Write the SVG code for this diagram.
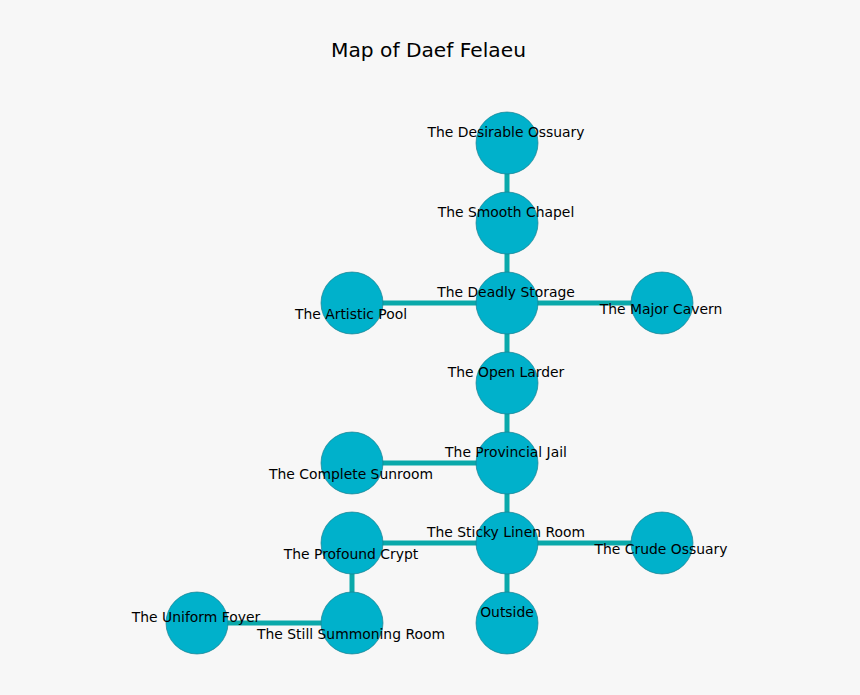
<svg xmlns="http://www.w3.org/2000/svg" width="860" height="695" viewBox="0 0 860 695">
<style>
.bg{fill:#f7f7f7}
.e{stroke:#0aa9aa;stroke-width:5;fill:none}
.n{fill:#00b1cb;stroke:#1a7f8f;stroke-width:0.7}
.t{font-family:"DejaVu Sans",sans-serif;font-size:13.9px;fill:#000;text-anchor:middle}
.title{font-family:"DejaVu Sans",sans-serif;font-size:20.2px;fill:#000;text-anchor:middle}
</style>
<rect class="bg" width="860" height="695"/>
<text class="title" x="428.5" y="57">Map of Daef Felaeu</text>
<g id="connectors">
<line class="e" x1="507" y1="143" x2="507" y2="223"/>
<line class="e" x1="507" y1="223" x2="507" y2="303"/>
<line class="e" x1="507" y1="303" x2="352" y2="303"/>
<line class="e" x1="507" y1="303" x2="662" y2="303"/>
<line class="e" x1="507" y1="303" x2="507" y2="383"/>
<line class="e" x1="507" y1="383" x2="507" y2="463"/>
<line class="e" x1="507" y1="463" x2="352" y2="463"/>
<line class="e" x1="507" y1="463" x2="507" y2="543"/>
<line class="e" x1="507" y1="543" x2="352" y2="543"/>
<line class="e" x1="507" y1="543" x2="662" y2="543"/>
<line class="e" x1="507" y1="543" x2="507" y2="623"/>
<line class="e" x1="352" y1="543" x2="352" y2="623"/>
<line class="e" x1="352" y1="623" x2="197" y2="623"/>
</g>
<g id="desirable-ossuary"><circle class="n" cx="507" cy="143" r="31"/><text class="t" x="506" y="137">The Desirable Ossuary</text></g>
<g id="smooth-chapel"><circle class="n" cx="507" cy="223" r="31"/><text class="t" x="506" y="217">The Smooth Chapel</text></g>
<g id="deadly-storage"><circle class="n" cx="507" cy="303" r="31"/><text class="t" x="506" y="297">The Deadly Storage</text></g>
<g id="artistic-pool"><circle class="n" cx="352" cy="303" r="31"/><text class="t" x="351" y="319">The Artistic Pool</text></g>
<g id="major-cavern"><circle class="n" cx="662" cy="303" r="31"/><text class="t" x="661" y="314">The Major Cavern</text></g>
<g id="open-larder"><circle class="n" cx="507" cy="383" r="31"/><text class="t" x="506" y="377">The Open Larder</text></g>
<g id="provincial-jail"><circle class="n" cx="507" cy="463" r="31"/><text class="t" x="506" y="457">The Provincial Jail</text></g>
<g id="complete-sunroom"><circle class="n" cx="352" cy="463" r="31"/><text class="t" x="351" y="479">The Complete Sunroom</text></g>
<g id="sticky-linen-room"><circle class="n" cx="507" cy="543" r="31"/><text class="t" x="506" y="537">The Sticky Linen Room</text></g>
<g id="crude-ossuary"><circle class="n" cx="662" cy="543" r="31"/><text class="t" x="661" y="554">The Crude Ossuary</text></g>
<g id="profound-crypt"><circle class="n" cx="352" cy="543" r="31"/><text class="t" x="351" y="559">The Profound Crypt</text></g>
<g id="outside"><circle class="n" cx="507" cy="623" r="31"/><text class="t" x="507" y="617">Outside</text></g>
<g id="uniform-foyer"><circle class="n" cx="197" cy="623" r="31"/><text class="t" x="196" y="622">The Uniform Foyer</text></g>
<g id="still-summoning-room"><circle class="n" cx="352" cy="623" r="31"/><text class="t" x="351" y="639">The Still Summoning Room</text></g>
</svg>
